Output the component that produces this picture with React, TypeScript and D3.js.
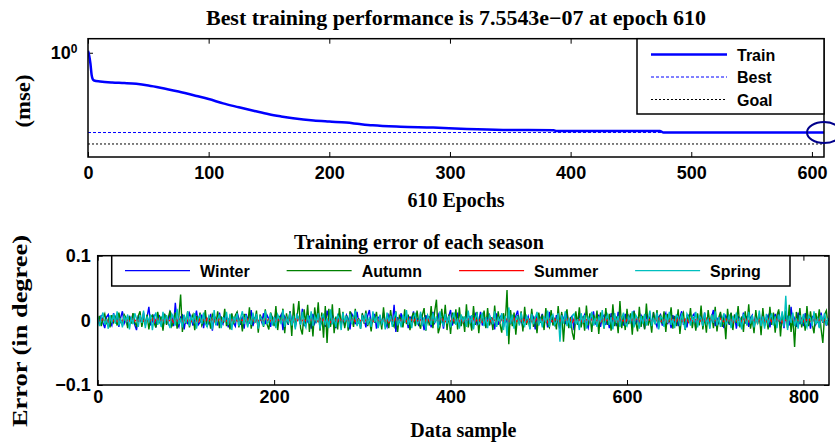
import React, { useEffect, useRef } from 'react';
import * as d3 from 'd3';

// ---- top panel: training performance (log scale) ----
const totalEpochs = 610;
const epochTicks = [0, 100, 200, 300, 400, 500, 600];
const bestPerf = 7.5543e-7;
const goalPerf = 1e-7;
// [epoch, mse]
const trainCurve: [number, number][] = [
  [0, 1.4], [1, 0.6], [2, 0.15], [3, 0.02], [4, 0.009], [5, 0.0075],
  [10, 0.0063], [20, 0.0052], [30, 0.0047], [40, 0.0041], [50, 0.0031],
  [60, 0.0021], [75, 0.00105], [90, 4.8e-4], [100, 2.8e-4], [112, 1.3e-4],
  [125, 6.6e-5], [138, 3.4e-5], [150, 1.9e-5], [160, 1.3e-5], [170, 9.3e-6],
  [187, 6.2e-6], [200, 5.2e-6], [214, 4.4e-6], [225, 3.4e-6], [236, 2.7e-6],
  [259, 2.1e-6], [286, 1.8e-6], [314, 1.4e-6], [344, 1.2e-6], [386, 1.15e-6],
  [388, 1.0e-6], [474, 1.0e-6], [477, 7.6e-7], [610, 7.5543e-7],
];
const perfLegend = ['Train', 'Best', 'Goal'];

// ---- bottom panel: error per season ----
const sampleCount = 829;
const sampleStep = 2; // one value read every 2 samples
const sampleTicks = [0, 200, 400, 600, 800];
const errorTicks = [-0.1, 0, 0.1];
const seasons = ['Winter', 'Autumn', 'Summer', 'Spring'];
const seasonColors = ['#0000ff', '#008000', '#ff0000', '#00bfbf'];

// error values in units of 1e-3 degree
const winterErr = [
  3,-6,8,-4,-12,5,9,-3,-8,11,-2,6,-10,4,14,-5,2,-9,7,-1,
  10,-7,-15,6,3,-4,12,-8,5,21,-6,-2,9,-11,4,7,-3,-13,8,2,
  -5,13,6,-9,27,-4,-10,5,8,-14,3,-6,11,4,-8,2,15,-7,-3,9,
  -12,6,1,-5,10,-16,7,3,-8,12,-2,-6,9,4,-11,5,8,-4,-9,13,
  2,-7,6,-13,10,3,-5,16,-9,4,7,-12,5,-3,11,-6,8,2,-10,6,
  -4,12,-8,3,9,-15,6,1,-7,14,-3,5,-11,8,2,-6,18,-9,4,-2,
  7,-13,10,-5,3,12,-8,-3,6,-10,15,4,-7,9,-2,-12,6,11,-5,3,
  -9,8,2,-14,10,5,-6,13,-4,-8,9,3,-11,7,16,-5,-2,10,-13,4,
  6,-7,12,-3,-10,8,2,-6,24,-18,5,-4,11,-8,3,7,-12,6,-2,14,
  -6,4,-9,10,3,-15,8,-2,6,-11,13,-4,2,9,-7,5,-13,11,-3,7,
  16,-8,3,-5,12,-10,6,2,-9,14,-4,7,-12,5,10,-6,-2,13,-8,4,
  -11,6,9,-4,3,-14,11,-7,5,8,-10,4,-3,12,-6,2,-9,7,15,-5,
  3,-12,8,-2,6,-8,11,4,-14,9,-5,2,10,-7,6,-11,13,-3,5,-9,
  8,-4,-13,10,3,-6,12,-9,4,7,-15,6,-2,11,-8,3,9,-5,-12,7,
  2,14,-6,-3,9,-10,5,8,-7,4,-12,11,-2,6,-9,13,-4,3,-8,10,
  -5,7,2,-11,15,-6,4,-9,8,3,-13,10,-4,6,-7,12,-2,-10,5,9,
  -8,4,11,-6,3,-12,8,-3,7,-9,5,14,-7,2,-11,9,-4,6,10,-13,
  5,-2,8,-10,12,-5,3,-8,6,16,-9,4,-6,10,-3,-12,7,2,-7,11,
  -4,9,-13,6,3,-8,12,-5,7,-10,4,8,-14,10,-2,5,-9,13,-6,3,
  8,-11,5,-3,10,-7,14,-4,2,-12,9,6,-8,21,-5,3,-10,12,-6,4,
  -9,11,-3,7,-13,5,8,-6,2,-10,12,-4,6,-8,3,
];
const autumnErr = [
  -4,7,-9,3,10,-6,2,-11,8,-3,5,-8,12,-2,-7,9,4,-12,6,-5,
  11,-3,-9,7,14,-10,3,-6,9,-14,5,8,-4,-11,13,-2,6,-16,10,-7,
  4,15,-9,-3,12,-13,6,40,-18,8,-5,14,-11,3,9,-15,7,-4,12,-8,
  -2,16,-10,5,-13,9,3,-7,14,-12,6,-4,18,-9,2,-14,11,-6,8,13,
  -11,5,-17,10,3,-8,20,-13,6,-4,15,-19,9,2,-10,17,-6,-14,12,4,
  -9,22,-15,7,-3,18,-20,11,-6,14,-24,26,-8,5,30,-12,-22,17,-6,24,
  -18,9,-25,20,-4,28,-16,12,-27,22,-35,18,-10,25,-20,6,-14,19,-9,13,
  -12,8,-16,14,5,-10,18,-7,3,-13,11,-5,15,-9,2,-17,9,-4,13,-11,
  6,-14,20,-8,3,-12,16,-5,-10,14,-18,7,2,-11,17,-6,9,-15,5,12,
  -9,15,-4,-13,8,19,-16,6,-8,22,-12,14,32,-20,-10,18,-6,24,-15,9,
  -21,12,-5,17,-14,20,-9,6,-18,25,-11,4,-16,22,-7,13,-20,9,-3,15,
  -12,19,-8,5,-15,23,-10,14,-6,-19,11,-4,47,-37,16,-9,12,-22,8,-5,
  14,-17,21,-7,3,-13,18,-10,6,-20,12,-4,9,-15,19,-6,-11,16,-8,4,
  -14,22,-9,13,-33,8,17,-12,5,-19,-30,14,-7,20,-11,6,-16,23,-8,11,
  -18,9,-5,15,-21,12,4,-13,19,-7,10,-16,25,-9,6,-20,30,-12,8,-15,
  18,-6,11,-22,14,-3,-17,21,-10,7,-14,26,-8,4,-19,13,-6,16,-11,9,
  -5,14,-18,10,-3,20,-13,7,-9,17,-21,6,12,-15,8,-4,19,-12,5,-16,
  11,-8,23,-14,6,-19,16,-5,9,-12,21,-17,4,13,-10,7,-29,18,-6,12,
  -15,9,-4,22,-11,6,-18,14,-8,25,-13,3,-20,16,-6,10,-23,19,-9,5,
  -14,21,-7,12,-19,8,17,-25,10,-4,15,-12,24,-18,6,-41,13,-8,19,-11,
  7,-16,22,-9,14,-6,-20,11,-4,17,-13,-35,9,15,-8,
];
const summerErr = [
  1,-2,0,2,-1,1,-3,2,0,-1,2,-2,1,0,-1,3,-2,1,-1,0,
  2,-1,1,-2,0,3,-1,-2,1,0,-1,2,-3,1,2,-1,0,1,-2,2,
  -1,0,2,-3,1,-1,2,0,-2,1,3,-1,0,-2,1,2,-1,-3,2,0,
  1,-2,3,-1,0,2,-2,1,-1,3,0,-2,1,-1,2,-3,1,0,2,-1,
  -2,1,0,3,-1,2,-2,0,1,-3,2,-1,1,0,-2,3,-1,2,-1,0,
  2,-3,1,0,-1,2,-2,3,-1,1,0,-2,2,-1,3,-2,0,1,-1,2,
  -1,2,-3,1,0,-2,3,-1,2,-1,1,0,-3,2,-1,1,-2,3,0,-1,
  1,0,-2,2,-1,3,-2,1,0,-1,2,-3,1,-1,2,0,-2,1,3,-1,
  0,-1,2,-2,1,-3,2,0,-1,3,-2,1,-1,2,0,-2,3,-1,1,-2,
  2,-1,0,1,-3,2,-1,3,-2,0,1,-1,2,-2,1,3,-1,-2,0,1,
  -2,3,-1,1,0,-2,2,-3,1,-1,2,0,-1,3,-2,1,-1,2,-3,0,
  1,-1,2,-2,3,0,-1,1,-3,2,-1,0,2,-2,1,-1,3,-2,0,1,
  -1,2,0,-3,1,2,-2,1,-1,3,-2,0,1,-1,2,-3,1,0,-2,2,
  0,1,-2,3,-1,0,2,-2,1,-3,2,-1,0,1,-2,3,-1,1,0,-1,
  2,-2,1,-1,3,-3,0,2,-1,1,-2,0,3,-1,1,-2,2,-1,0,-3,
  1,0,-1,2,-2,1,3,-2,0,-1,2,-3,1,1,-2,0,2,-1,3,-2,
  -1,1,2,-3,0,2,-1,1,-2,3,-1,0,-2,2,1,-3,2,-1,0,1,
  2,-2,0,1,-1,3,-3,1,2,-1,0,-2,1,3,-1,-2,2,0,-1,1,
  -3,2,-1,0,1,-2,3,-1,2,-2,0,1,-1,2,-3,1,0,2,-1,-2,
  1,3,-2,0,-1,2,-1,1,-3,2,0,-2,1,-1,3,-2,1,0,-1,2,
  -2,1,0,2,-1,-3,2,1,-1,0,2,-2,1,-1,0,
];
const springErr = [
  6,-9,4,12,-7,2,-13,8,-3,10,-5,14,-8,3,-11,7,-2,9,-14,5,
  -6,11,3,-10,8,-4,15,-12,6,-2,9,-15,4,12,-7,2,-10,13,-5,8,
  -3,-12,10,5,-8,18,-6,3,-11,9,-4,14,-9,6,-2,11,-13,4,8,-6,
  12,-5,-10,7,3,-14,16,-8,2,9,-12,5,-3,13,-7,10,-15,6,-1,11,
  -9,4,14,-6,8,-11,3,-7,12,-4,10,-13,6,2,-9,15,-5,-2,11,-8,
  5,-12,9,3,-6,16,-10,4,-3,12,-8,7,-14,10,2,-7,13,-4,-11,8,
  -5,14,-9,6,-2,11,-13,5,9,-7,3,-12,17,-6,4,-10,8,2,-15,12,
  -3,7,-11,10,-6,4,15,-9,2,-13,8,-4,11,-7,5,-10,14,-3,6,-12,
  9,-5,3,-14,12,-2,7,-10,5,13,-8,2,-11,9,-4,16,-7,3,-12,6,
  10,-6,-3,13,-9,5,-15,8,2,-7,11,-4,6,-12,14,-3,-8,10,-5,7,
  -11,4,12,-7,3,-13,9,-2,6,-10,15,-5,8,-14,3,10,-6,-3,12,-9,
  5,-12,8,2,-6,14,-10,4,-2,11,-15,7,-24,20,-5,9,-13,3,6,-8,
  12,-4,-9,7,2,-14,10,-6,4,13,-8,3,-11,6,-3,15,-10,5,9,-7,
  -2,11,-33,8,-5,14,-9,3,-12,7,10,-6,2,-15,11,-4,8,-13,5,-1,
  13,-8,4,-10,6,-3,16,-12,2,9,-7,5,-14,11,-4,7,-10,3,12,-6,
  -9,5,-2,14,-11,8,3,-13,7,-5,10,-8,2,15,-9,4,-6,12,-14,6,
  3,-10,9,-4,13,-7,2,-12,8,5,-9,11,-3,-14,10,4,-8,6,-2,13,
  -11,7,3,-9,12,-5,2,-13,9,-4,14,-8,5,-10,3,11,-6,-2,9,-12,
  6,-3,12,-9,4,-14,10,2,-7,13,-5,8,-11,3,-4,15,-9,6,-13,10,
  -5,3,11,-8,6,-12,9,-2,14,-10,38,-15,7,-4,12,-9,3,-13,8,-6,
  10,-4,-11,7,3,-9,14,-6,2,-12,8,-3,11,-7,4,
];
const seasonErr = [winterErr, autumnErr, summerErr, springErr];

const SANS = "'Liberation Sans', Arial, sans-serif";
const SERIF = "'Liberation Serif', 'Times New Roman', serif";

function PerformanceChart() {
  const ref = useRef<SVGSVGElement>(null);

  useEffect(() => {
    document.body.style.margin = '0';
    const svg = d3.select(ref.current);
    svg.selectAll('*').remove();
    svg.attr('width', 835).attr('height', 442);

    const styleAxis = (g: any, size = 18) => {
      g.select('.domain').remove();
      g.selectAll('.tick line').attr('stroke', '#000').attr('stroke-width', 1);
      g.selectAll('text')
        .attr('fill', '#000')
        .style('font-family', SANS)
        .style('font-weight', 'bold')
        .style('font-size', `${size}px`);
    };

    // ================= top panel =================
    const p1 = { l: 88, r: 824, t: 38.7, b: 157 };
    const x1 = d3.scaleLinear().domain([0, totalEpochs]).range([p1.l, p1.r]);
    const y1 = d3.scaleLog().domain([1e-8, 12]).range([p1.b, p1.t]);

    svg.append('g')
      .attr('transform', `translate(0,${p1.b})`)
      .call(d3.axisBottom(x1).tickValues(epochTicks).tickSizeInner(-5).tickSizeOuter(0).tickPadding(9))
      .call(styleAxis);
    svg.append('g')
      .attr('transform', `translate(0,${p1.t})`)
      .call(d3.axisTop(x1).tickValues(epochTicks).tickSizeInner(-5).tickSizeOuter(0).tickFormat(() => ''))
      .call(styleAxis);
    svg.append('g')
      .attr('transform', `translate(${p1.l},0)`)
      .call(d3.axisLeft(y1).tickValues([1]).tickSizeInner(-5).tickSizeOuter(0).tickFormat(() => ''))
      .call(styleAxis);

    // 10^0 label
    const yl = svg.append('text')
      .attr('x', p1.l - 10.5)
      .attr('y', y1(1) + 6.5)
      .attr('text-anchor', 'end')
      .style('font-family', SANS)
      .style('font-weight', 'bold')
      .style('font-size', '18px');
    yl.append('tspan').text('10');
    yl.append('tspan').attr('dy', -6.5).style('font-size', '12px').text('0');

    svg.append('defs').append('clipPath').attr('id', 'clip-perf')
      .append('rect').attr('x', p1.l).attr('y', p1.t).attr('width', p1.r - p1.l).attr('height', p1.b - p1.t);

    const plot1 = svg.append('g').attr('clip-path', 'url(#clip-perf)');
    plot1.append('line')
      .attr('x1', x1(0)).attr('x2', x1(totalEpochs))
      .attr('y1', y1(goalPerf)).attr('y2', y1(goalPerf))
      .attr('stroke', '#000').attr('stroke-width', 1).attr('stroke-dasharray', '2,2');
    plot1.append('line')
      .attr('x1', x1(0)).attr('x2', x1(totalEpochs))
      .attr('y1', y1(bestPerf)).attr('y2', y1(bestPerf))
      .attr('stroke', '#0000ff').attr('stroke-width', 1).attr('stroke-dasharray', '3,2');
    plot1.append('path')
      .datum(trainCurve)
      .attr('fill', 'none')
      .attr('stroke', '#0000ff')
      .attr('stroke-width', 2.5)
      .attr('d', d3.line<[number, number]>()
        .x((d) => x1(d[0]))
        .y((d) => y1(d[1]))
        .curve(d3.curveMonotoneX));

    svg.append('rect')
      .attr('x', p1.l).attr('y', p1.t).attr('width', p1.r - p1.l).attr('height', p1.b - p1.t)
      .attr('fill', 'none').attr('stroke', '#000').attr('stroke-width', 1.5);

    // best-epoch marker
    svg.append('ellipse')
      .attr('cx', x1(totalEpochs)).attr('cy', y1(bestPerf))
      .attr('rx', 17).attr('ry', 10.5)
      .attr('fill', 'none').attr('stroke', '#00008b').attr('stroke-width', 2);

    // legend
    const lg1 = svg.append('g');
    lg1.append('rect')
      .attr('x', 637).attr('y', p1.t).attr('width', p1.r - 637).attr('height', 114 - p1.t)
      .attr('fill', '#fff').attr('stroke', '#000').attr('stroke-width', 1.5);
    const legStyle = [
      { stroke: '#0000ff', w: 2.5, dash: null },
      { stroke: '#0000ff', w: 1, dash: '3,2' },
      { stroke: '#000', w: 1, dash: '2,2' },
    ];
    perfLegend.forEach((name, i) => {
      const yy = 54.5 + i * 22.5;
      lg1.append('line')
        .attr('x1', 651).attr('x2', 727).attr('y1', yy).attr('y2', yy)
        .attr('stroke', legStyle[i].stroke).attr('stroke-width', legStyle[i].w)
        .attr('stroke-dasharray', legStyle[i].dash);
      lg1.append('text')
        .attr('x', 737).attr('y', yy + 6)
        .style('font-family', SANS).style('font-weight', 'bold').style('font-size', '16px')
        .text(name);
    });

    svg.append('text')
      .attr('x', (p1.l + p1.r) / 2).attr('y', 25)
      .attr('text-anchor', 'middle')
      .attr('textLength', 500).attr('lengthAdjust', 'spacingAndGlyphs')
      .style('font-family', SERIF).style('font-weight', 'bold').style('font-size', '21px')
      .text('Best training performance is 7.5543e\u221207 at epoch 610');
    svg.append('text')
      .attr('x', (p1.l + p1.r) / 2).attr('y', 207)
      .attr('text-anchor', 'middle')
      .style('font-family', SERIF).style('font-weight', 'bold').style('font-size', '20px')
      .text('610 Epochs');
    svg.append('text')
      .attr('transform', `translate(30,101) rotate(-90)`)
      .attr('text-anchor', 'middle')
      .attr('textLength', 53).attr('lengthAdjust', 'spacingAndGlyphs')
      .style('font-family', SERIF).style('font-weight', 'bold').style('font-size', '22px')
      .text('(mse)');

    // ================= bottom panel =================
    const p2 = { l: 97.7, r: 829, t: 255.7, b: 385 };
    const x2 = d3.scaleLinear().domain([0, sampleCount]).range([p2.l, p2.r]);
    const y2 = d3.scaleLinear().domain([-0.1, 0.1]).range([p2.b, p2.t]);
    const fmtErr = (d: any) => (d === 0 ? '0' : d > 0 ? '0.1' : '\u22120.1');

    svg.append('g')
      .attr('transform', `translate(0,${p2.b})`)
      .call(d3.axisBottom(x2).tickValues(sampleTicks).tickSizeInner(-5).tickSizeOuter(0).tickPadding(5))
      .call(styleAxis);
    svg.append('g')
      .attr('transform', `translate(0,${p2.t})`)
      .call(d3.axisTop(x2).tickValues(sampleTicks).tickSizeInner(-5).tickSizeOuter(0).tickFormat(() => ''))
      .call(styleAxis);
    svg.append('g')
      .attr('transform', `translate(${p2.l},0)`)
      .call(d3.axisLeft(y2).tickValues(errorTicks).tickSizeInner(-5).tickSizeOuter(0).tickPadding(7).tickFormat(fmtErr))
      .call(styleAxis);
    svg.append('g')
      .attr('transform', `translate(${p2.r},0)`)
      .call(d3.axisRight(y2).tickValues(errorTicks).tickSizeInner(-5).tickSizeOuter(0).tickFormat(() => ''))
      .call(styleAxis);

    const errLine = d3.line<number>()
      .x((_, i) => x2(i * sampleStep))
      .y((d) => y2(d / 1000));
    seasonErr.forEach((vals, k) => {
      svg.append('path')
        .datum(vals)
        .attr('fill', 'none')
        .attr('stroke', seasonColors[k])
        .attr('stroke-width', 1.4)
        .attr('d', errLine);
    });

    svg.append('rect')
      .attr('x', p2.l).attr('y', p2.t).attr('width', p2.r - p2.l).attr('height', p2.b - p2.t)
      .attr('fill', 'none').attr('stroke', '#000').attr('stroke-width', 1.5);

    const lg2 = svg.append('g');
    lg2.append('rect')
      .attr('x', 111.7).attr('y', p2.t).attr('width', 790 - 111.7).attr('height', 286 - p2.t)
      .attr('fill', '#fff').attr('stroke', '#000').attr('stroke-width', 1.5);
    let cx = 125;
    const ly = 270.7;
    seasons.forEach((name, k) => {
      lg2.append('line')
        .attr('x1', cx).attr('x2', cx + 65).attr('y1', ly).attr('y2', ly)
        .attr('stroke', seasonColors[k]).attr('stroke-width', 1.2);
      const t = lg2.append('text')
        .attr('x', cx + 75).attr('y', ly + 6)
        .style('font-family', SANS).style('font-weight', 'bold').style('font-size', '16px')
        .text(name);
      const w = (t.node() as SVGTextElement).getComputedTextLength();
      cx = cx + 75 + w + 37;
    });

    svg.append('text')
      .attr('x', 419).attr('y', 249)
      .attr('text-anchor', 'middle')
      .style('font-family', SERIF).style('font-weight', 'bold').style('font-size', '20px')
      .text('Training error of each season');
    svg.append('text')
      .attr('x', (p2.l + p2.r) / 2).attr('y', 437)
      .attr('text-anchor', 'middle')
      .style('font-family', SERIF).style('font-weight', 'bold').style('font-size', '20px')
      .text('Data sample');
    svg.append('text')
      .attr('transform', `translate(27,331) rotate(-90)`)
      .attr('text-anchor', 'middle')
      .attr('textLength', 192).attr('lengthAdjust', 'spacingAndGlyphs')
      .style('font-family', SERIF).style('font-weight', 'bold').style('font-size', '22px')
      .text('Error (in degree)');
  }, []);

  return <svg ref={ref} style={{ display: 'block' }}></svg>;
}

export default function App() {
  return <PerformanceChart />;
}
